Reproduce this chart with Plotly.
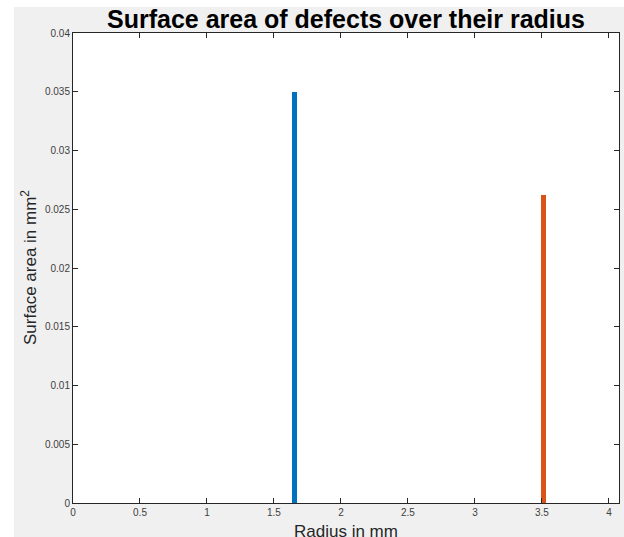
import plotly.graph_objects as go

# Defect measurements: radius (mm) and surface area (mm^2)
radius_mm = [1.655, 3.513]
surface_area_mm2 = [0.0350, 0.0262]
bar_colors = ["#0072BD", "#D95319"]

x_tick_vals = [0, 0.5, 1, 1.5, 2, 2.5, 3, 3.5, 4]
x_tick_text = ["0", "0.5", "1", "1.5", "2", "2.5", "3", "3.5", "4"]
y_tick_vals = [0, 0.005, 0.01, 0.015, 0.02, 0.025, 0.03, 0.035, 0.04]
y_tick_text = ["0", "0.005", "0.01", "0.015", "0.02", "0.025", "0.03", "0.035", "0.04"]

W, H = 624, 537
L, R, T, B = 73, 5, 33, 34
pw, ph = W - L - R, H - T - B

def px_x(p):
    return (p - L) / pw

def px_y(p):
    return (H - B - p) / ph

fig = go.Figure()
for xv, yv, c in zip(radius_mm, surface_area_mm2, bar_colors):
    fig.add_trace(go.Bar(x=[xv], y=[yv], width=0.037, marker=dict(color=c, line=dict(width=0)),
                         showlegend=False))

axis_common = dict(
    showline=True, linecolor="#262626", linewidth=1, mirror="ticks",
    ticks="inside", ticklen=5, tickcolor="#262626", tickwidth=1,
    showgrid=False, zeroline=False,
    tickfont=dict(family="Liberation Sans, Arial, sans-serif", size=10, color="#404040"),
)

fig.update_xaxes(range=[0, 4.075], tickmode="array", tickvals=x_tick_vals, ticktext=x_tick_text,
                 **axis_common)
fig.update_yaxes(range=[0, 0.04], tickmode="array", tickvals=y_tick_vals, ticktext=y_tick_text,
                 **axis_common)

fig.update_layout(
    width=W, height=H,
    margin=dict(l=L, r=R, t=T, b=B, pad=0),
    paper_bgcolor="#f0f0f0",
    plot_bgcolor="#ffffff",
    bargap=0,
    title=dict(text="<b>Surface area of defects over their radius</b>",
               x=0.5, xref="paper", y=1 - 19 / H, yref="container", yanchor="middle", xanchor="center",
               font=dict(family="Liberation Sans, Arial, sans-serif", size=25, color="#000000")),
    shapes=[
        # white frame strips along the left and top edges of the figure
        dict(type="rect", xref="paper", yref="paper", x0=px_x(0), x1=px_x(14), y0=px_y(H), y1=px_y(0),
             fillcolor="#ffffff", line=dict(width=0), layer="above"),
        dict(type="rect", xref="paper", yref="paper", x0=px_x(0), x1=px_x(W), y0=px_y(7), y1=px_y(0),
             fillcolor="#ffffff", line=dict(width=0), layer="above"),
    ],
    annotations=[
        dict(text="Radius in mm", xref="paper", yref="paper", x=0.5, y=px_y(531),
             xanchor="center", yanchor="middle", showarrow=False,
             font=dict(family="Liberation Sans, Arial, sans-serif", size=17, color="#262626")),
        dict(text="Surface area in mm<sup>2</sup>", xref="paper", yref="paper", x=px_x(29), y=0.5,
             xanchor="center", yanchor="middle", textangle=-90, showarrow=False,
             font=dict(family="Liberation Sans, Arial, sans-serif", size=17, color="#262626")),
    ],
)

fig.write_html("out.html")
